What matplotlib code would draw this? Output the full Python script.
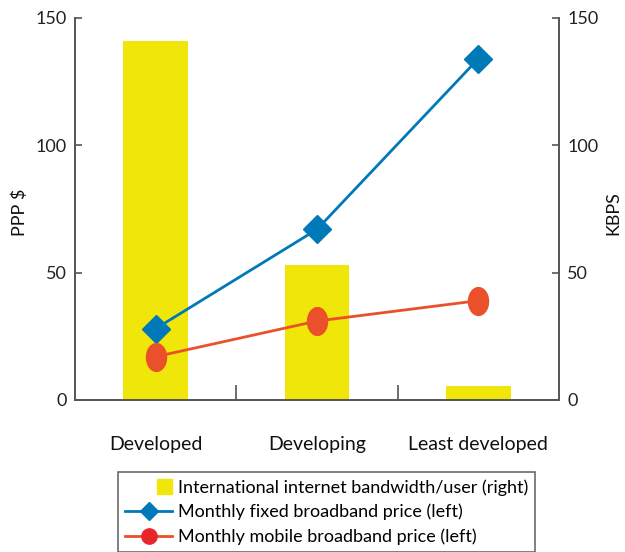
import matplotlib
matplotlib.use("Agg")
import matplotlib.pyplot as plt
from matplotlib.path import Path
from matplotlib.patches import Rectangle
from matplotlib.lines import Line2D
from matplotlib.legend_handler import HandlerPatch
import numpy as np

plt.rcParams['font.family'] = ['Lato', 'DejaVu Sans']

groups = ["Developed", "Developing", "Least developed"]
bandwidth = [141, 53, 5.5]        # KBPS, right axis
fixed_price = [28, 67, 134]       # PPP $, left axis
mobile_price = [17, 31, 39]       # PPP $, left axis
yticks = [0, 50, 100, 150]

yellow = "#F0E60A"
blue = "#0079B8"
red = "#EA5029"

# taller-than-wide dot for the mobile series
t = np.linspace(0, 2 * np.pi, 60)
oval = Path(np.column_stack([0.72 * np.cos(t), np.sin(t)]), closed=True)

fig = plt.figure(figsize=(6.25, 5.52), dpi=100)
ax = fig.add_axes([0.12, 0.2754, 0.7744, 0.692])
ax2 = ax.twinx()

x = np.arange(len(groups))
ax2.bar(x, bandwidth, width=0.4, color=yellow, zorder=1)
ax.plot(x, fixed_price, color=blue, lw=2, marker="D", ms=14, mfc=blue, mec=blue, zorder=3)
ax.plot(x, mobile_price, color=red, lw=2, marker=oval, ms=20, mfc=red, mec=red, zorder=3)

ax.set_zorder(ax2.get_zorder() + 1)
ax.patch.set_visible(False)

for a in (ax, ax2):
    a.set_ylim(0, 150)
    a.set_yticks(yticks)
    a.set_xlim(-0.5, 2.5)
    a.spines["top"].set_visible(False)
    for s in a.spines.values():
        s.set_color("#555555")
        s.set_linewidth(1.2)
    a.tick_params(axis="y", direction="in", length=5, width=1.2, colors="#555555",
                  labelcolor="#222222", labelsize=13, pad=6)

ax.set_xticks(x)
ax.set_xticklabels(groups, fontsize=14, color="#111111")
ax.tick_params(axis="x", length=0, pad=26)
ax.set_xticks([0.5, 1.5], minor=True)
ax.tick_params(axis="x", which="minor", direction="in", length=11, width=1.2, colors="#555555")

ax.set_ylabel("PPP $", fontsize=13, color="#111111")
ax.yaxis.set_label_coords(-0.097, 0.49)
ax2.set_ylabel("KBPS", fontsize=13, color="#111111")
ax2.yaxis.set_label_coords(1.095, 0.49)


def square_right(legend, orig_handle, xdescent, ydescent, width, height, fontsize):
    s = height * 1.2
    return Rectangle((width - xdescent - s, -ydescent + (height - s) / 2), s, s)


handles = [
    Rectangle((0, 0), 1, 1, color=yellow),
    Line2D([], [], color=blue, lw=2, marker="D", ms=9),
    Line2D([], [], color=red, lw=2, marker="o", ms=11, mfc="#E8262A", mec="#E8262A"),
]
labels = [
    "International internet bandwidth/user (right)",
    "Monthly fixed broadband price (left)",
    "Monthly mobile broadband price (left)",
]
leg = fig.legend(handles, labels, loc="upper left", bbox_to_anchor=(0.189, 0.145),
                 bbox_transform=fig.transFigure, frameon=True, fancybox=False,
                 edgecolor="#444444", fontsize=13, handlelength=2.6, handletextpad=0.3,
                 labelspacing=0.45, borderpad=0.4, borderaxespad=0,
                 handler_map={Rectangle: HandlerPatch(patch_func=square_right)})
leg.get_frame().set_linewidth(1.2)

fig.savefig("out.png", dpi=100)
